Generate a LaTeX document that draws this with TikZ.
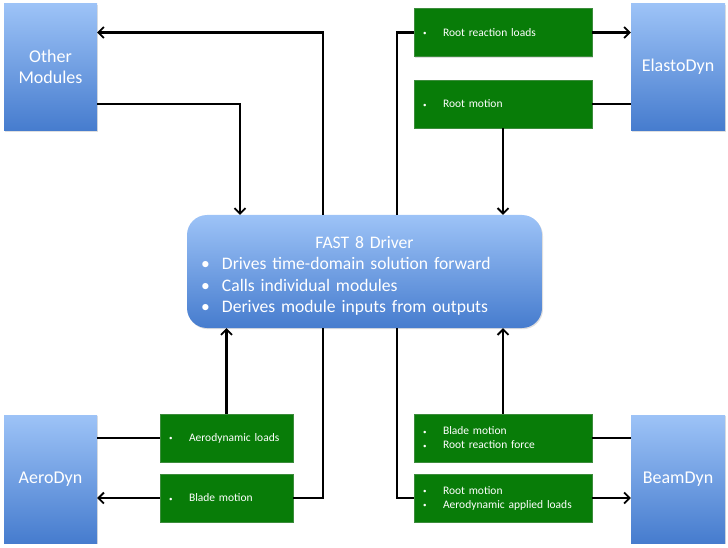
\documentclass[tikz,border=0pt]{standalone}
\usepackage{fontspec}
\setmainfont{Carlito}
\usetikzlibrary{arrows.meta,shadows}
\definecolor{bluetop}{RGB}{157,195,247}
\definecolor{bluebot}{RGB}{70,124,206}
\definecolor{gfill}{RGB}{8,124,8}
\definecolor{gline}{RGB}{60,140,60}
\begin{document}
\begin{tikzpicture}[x=1pt,y=-1pt,
  modbox/.style={rectangle,top color=bluetop,bottom color=bluebot,draw=none,
    minimum width=93pt,minimum height=127pt,inner sep=2pt,align=center,
    text=white,font=\fontsize{18}{21}\selectfont,
    drop shadow={shadow xshift=1pt,shadow yshift=-1.2pt,opacity=0.25}},
  fastbox/.style={rectangle,rounded corners=20pt,top color=bluetop,bottom color=bluebot,draw=none,
    minimum width=355pt,minimum height=113pt,inner sep=0pt,text width=355pt,align=left,
    text=white,font=\fontsize{17.6}{21.5}\selectfont,
    drop shadow={shadow xshift=1pt,shadow yshift=-1.2pt,opacity=0.25}},
  gbox/.style={rectangle,fill=gfill,draw=gline,line width=0.4pt,
    minimum height=48pt,inner xsep=9pt,inner ysep=2pt,align=left,
    text=white,font=\fontsize{11.5}{14}\selectfont,
    drop shadow={shadow xshift=1pt,shadow yshift=-1.2pt,opacity=0.25}},
  conn/.style={draw=black,line width=2.3pt},
  arr/.style={conn,-{Straight Barb[length=5.5pt,width=11pt,line width=1.8pt]}}
]
\useasboundingbox (0,0) rectangle (728,548);
\newcommand{\gb}{\makebox[20pt][l]{\raisebox{0.5pt}{\scriptsize\textbullet}}}
\newcommand{\fb}{\hspace*{14pt}\makebox[21pt][l]{\textbullet}}

% module boxes
\node[modbox] (om) at (50.5,67) {Other\\Modules};
\node[modbox,minimum width=94pt] (ed) at (678,67) {ElastoDyn};
\node[modbox,minimum height=128pt] (ad) at (50.5,479) {AeroDyn};
\node[modbox,minimum width=94pt,minimum height=128pt] (bd) at (678,479) {BeamDyn};

% driver
\node[fastbox] (fast) at (364.5,271.5) {\rule{0pt}{21pt}\makebox[355pt]{FAST 8 Driver}\\
\fb Drives time-domain solution forward\\
\fb Calls individual modules\\
\fb Derives module inputs from outputs};

% green data boxes
\node[gbox,text width=160pt] (g1) at (503,32.5) {\gb Root reaction loads};
\node[gbox,text width=160pt] (g2) at (503,104) {\gb Root motion};
\node[gbox,text width=115pt] (g3) at (226.5,438) {\gb Aerodynamic loads};
\node[gbox,text width=115pt] (g4) at (226.5,498) {\gb Blade motion};
\node[gbox,text width=160pt] (g5) at (503,438) {\gb Blade motion\\\gb Root reaction force};
\node[gbox,text width=160pt] (g6) at (503,498) {\gb Root motion\\\gb Aerodynamic applied loads};

% x positions of vertical runs
\coordinate (xa) at (323,0);
\coordinate (xb) at (240,0);
\coordinate (xc) at (397,0);

% top connectors
\draw[arr] (fast.north -| xa) |- (om.east |- g1.west);
\draw[arr] (om.east |- g2.west) -| (fast.north -| xb);
\draw[conn] (fast.north -| xc) |- (g1.west);
\draw[arr] (g1.east) -- (ed.west |- g1.east);
\draw[conn] (ed.west |- g2.east) -- (g2.east);
\draw[arr] (g2.south) -- (fast.north -| g2.south);

% bottom connectors
\draw[arr] (g3.north) -- (fast.south -| g3.north);
\draw[conn] (ad.east |- g3.west) -- (g3.west);
\draw[arr] (g4.west) -- (ad.east |- g4.west);
\draw[conn] (g4.east) -| (fast.south -| xa);
\draw[conn] (fast.south -| xc) |- (g6.west);
\draw[arr] (g5.north) -- (fast.south -| g5.north);
\draw[conn] (bd.west |- g5.east) -- (g5.east);
\draw[arr] (g6.east) -- (bd.west |- g6.east);
\end{tikzpicture}
\end{document}
